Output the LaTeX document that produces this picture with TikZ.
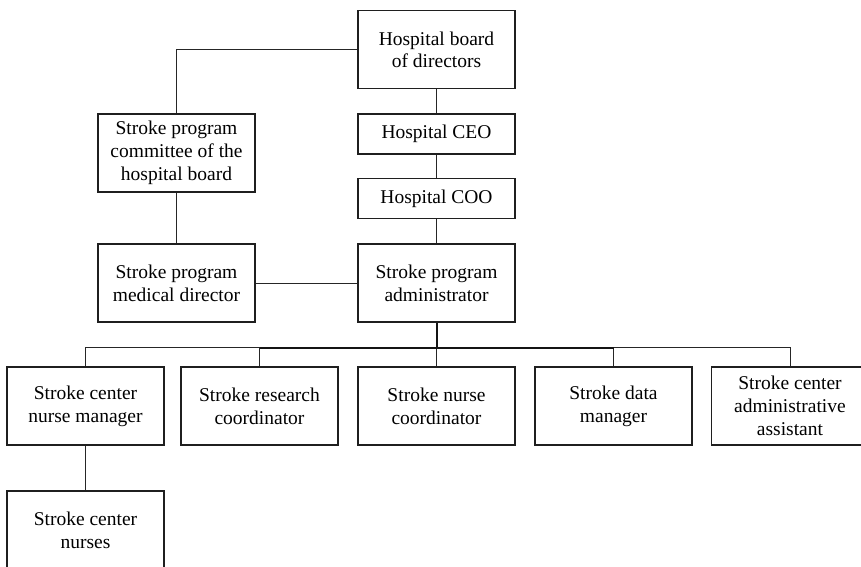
\documentclass[tikz,border=0pt]{standalone}
\usepackage{fontspec}
\setmainfont{Liberation Serif}
\begin{document}
\begin{tikzpicture}[x=1pt,y=-1pt,
  orgbox/.style={draw=black!88,line width=1.2pt,minimum width=157pt,minimum height=78pt,
    align=center,inner sep=0pt,font=\fontsize{19.5}{22.7}\selectfont},
  slimbox/.style={orgbox,minimum height=40pt},
  link/.style={draw=black!85,line width=1pt},
  trunk/.style={draw=black!92,line width=2pt}]
\useasboundingbox (0,0) rectangle (861,566);
\clip (0,0) rectangle (861,566);

% executive column
\node[orgbox]  (board)  at (436.5,49.7) {Hospital board\\of directors};
\node[slimbox] (ceo)    at (436.5,134)  {Hospital CEO};
\node[slimbox] (coo)    at (436.5,198.5){Hospital COO};
\node[orgbox]  (admin)  at (436.5,283)  {Stroke program\\administrator};

% board committee column
\node[orgbox]  (comm)   at (176.5,153)  {Stroke program\\committee of the\\hospital board};
\node[orgbox]  (meddir) at (176.5,283)  {Stroke program\\medical director};

% staff row
\node[orgbox]  (mgr)    at (85.5,406)   {Stroke center\\nurse manager};
\node[orgbox]  (res)    at (259.5,406)  {Stroke research\\coordinator};
\node[orgbox]  (nco)    at (436.5,406)  {Stroke nurse\\coordinator};
\node[orgbox]  (data)   at (613.5,406)  {Stroke data\\manager};
\node[orgbox]  (asst)   at (790,406)    {Stroke center\\administrative\\assistant};
\node[orgbox]  (nurses) at (85.5,530)   {Stroke center\\nurses};

% reporting lines
\draw[link] (board.west) -| (comm.north);
\draw[link] (comm.south) -- (meddir.north);
\draw[link] (board.south) -- (ceo.north);
\draw[link] (ceo.south) -- (coo.north);
\draw[link] (coo.south) -- (admin.north);
\draw[link] (meddir.east) -- (admin.west);
\draw[link] (mgr.south) -- (nurses.north);

% distribution bus below the administrator
\path (admin.south) ++(0,25) coordinate (hub);
\draw[link] (mgr.north) |- (hub -| res.north);
\draw[link] (asst.north) |- (hub -| data.north);
\draw[link] (res.north) -- (res.north |- hub);
\draw[link] (nco.north) -- (hub);
\draw[link] (data.north) -- (data.north |- hub);
\draw[trunk] (admin.south) -- (hub);
\draw[trunk] (hub -| res.north) -- (hub -| data.north);
\end{tikzpicture}
\end{document}
